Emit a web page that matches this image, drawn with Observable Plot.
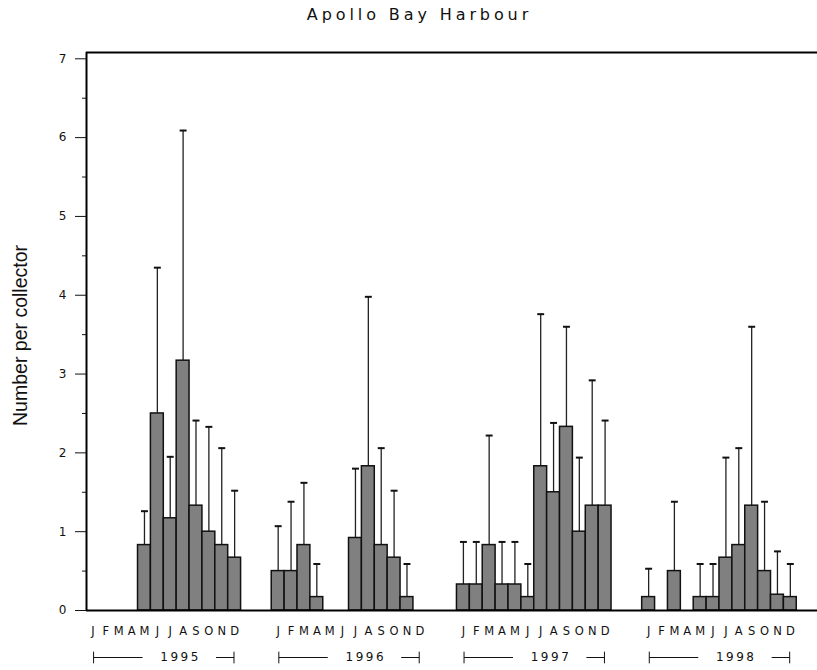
<!DOCTYPE html>
<html>
<head>
<meta charset="utf-8">
<script src="https://cdn.jsdelivr.net/npm/d3@7"></script>
<script src="https://cdn.jsdelivr.net/npm/@observablehq/plot@0.6"></script>
<style>
  html, body { margin: 0; padding: 0; background: #fff; }
  #wrap { width: 817px; }
  #title {
    height: 40px;
    box-sizing: border-box;
    padding-top: 6px;
    padding-left: 22px;
    text-align: center;
    font-family: "DejaVu Sans", sans-serif;
    font-size: 16px;
    line-height: 18px;
    letter-spacing: 3.9px;
    color: #111;
  }
</style>
</head>
<body>
<div id="wrap">
  <div id="title">Apollo Bay Harbour</div>
  <div id="chart"></div>
</div>
<script>
// Monthly mean number of settlers per collector, with the upper limit of each error bar.
const years = [1995, 1996, 1997, 1998];
const monthLetters = ["J", "F", "M", "A", "M", "J", "J", "A", "S", "O", "N", "D"];

const mean1995  = [null, null, null, null, 0.83, 2.50, 1.17, 3.17, 1.33, 1.00, 0.83, 0.67];
const upper1995 = [null, null, null, null, 1.26, 4.35, 1.95, 6.09, 2.41, 2.33, 2.06, 1.52];

const mean1996  = [0.50, 0.50, 0.83, 0.17, null, null, 0.92, 1.83, 0.83, 0.67, 0.17, null];
const upper1996 = [1.07, 1.38, 1.62, 0.59, null, null, 1.80, 3.98, 2.06, 1.52, 0.59, null];

const mean1997  = [0.33, 0.33, 0.83, 0.33, 0.33, 0.17, 1.83, 1.50, 2.33, 1.00, 1.33, 1.33];
const upper1997 = [0.87, 0.87, 2.22, 0.87, 0.87, 0.59, 3.76, 2.38, 3.60, 1.94, 2.92, 2.41];

const mean1998  = [0.17, null, 0.50, null, 0.17, 0.17, 0.67, 0.83, 1.33, 0.50, 0.20, 0.17];
const upper1998 = [0.53, null, 1.38, null, 0.59, 0.59, 1.94, 2.06, 3.60, 1.38, 0.75, 0.59];

const yTicks = [0, 1, 2, 3, 4, 5, 6, 7];
const yMinorTicks = [0.5, 1.5, 2.5, 3.5, 4.5, 5.5, 6.5];

const meanByYear = [mean1995, mean1996, mean1997, mean1998];
const upperByYear = [upper1995, upper1996, upper1997, upper1998];

// Layout on the x scale, in month widths: each year block is 12 months plus a gap.
const YEAR_STRIDE = 14.38;
const X_MAX = 56.75;
const Y_MAX = 7.08;
const CAP = 0.27;

const rows = years.flatMap((year, yi) =>
  monthLetters.map((letter, mi) => ({
    year, letter,
    start: yi * YEAR_STRIDE + mi,
    mean: meanByYear[yi][mi],
    upper: upperByYear[yi][mi]
  }))
);
const bars = rows.filter(d => d.mean != null);

const yearStart = (d, i) => i * YEAR_STRIDE;

// vertical end stroke for the year brackets
const vbar = {
  draw(context, size) {
    const h = Math.sqrt(size) / 2;
    context.moveTo(0, -h);
    context.lineTo(0, h);
  }
};

const chart = Plot.plot({
  width: 817,
  height: 630,
  marginLeft: 86,
  marginRight: 0,
  marginTop: 12,
  marginBottom: 60,
  style: { fontFamily: "DejaVu Sans, sans-serif", fontSize: "12px", background: "#fff", color: "#111" },
  x: { domain: [0, X_MAX], axis: null },
  y: { domain: [0, Y_MAX], axis: null },
  marks: [
    // error bars
    Plot.ruleX(bars, { x: d => d.start + 0.5, y1: "mean", y2: "upper", stroke: "#222", strokeWidth: 1.3 }),
    // bars
    Plot.rect(bars, { x1: "start", x2: d => d.start + 1, y1: 0, y2: "mean", fill: "#808080", stroke: "#111", strokeWidth: 1.5 }),
    // error bar caps
    Plot.link(bars, { x1: d => d.start + 0.5 - CAP, x2: d => d.start + 0.5 + CAP, y1: "upper", y2: "upper", stroke: "#111", strokeWidth: 2 }),

    // frame: left, bottom, top
    Plot.ruleX([0], { stroke: "#000", strokeWidth: 2 }),
    Plot.ruleY([0], { stroke: "#000", strokeWidth: 2 }),
    Plot.ruleY([Y_MAX], { stroke: "#000", strokeWidth: 2 }),

    // y axis with minor ticks
    Plot.axisY({ ticks: yTicks, tickSize: 11, tickPadding: 9, tickFormat: d => String(d), label: null, fontSize: 12 }),
    Plot.axisY({ ticks: yMinorTicks, tickSize: 4, tickFormat: () => "", label: null }),
    Plot.text(["Number per collector"], {
      text: d => d, frameAnchor: "left", textAnchor: "middle", dx: -66, dy: 4, rotate: -90,
      fontSize: 19.5, fontFamily: "Liberation Sans, Arial, sans-serif", fill: "#111"
    }),

    // month initials under each year
    Plot.text(rows, { x: d => d.start + 0.5, y: 0, dy: 21, text: "letter", fontSize: 11.5, fill: "#111" }),

    // year brackets
    Plot.link(years, { x1: (d, i) => yearStart(d, i) + 0.55, x2: (d, i) => yearStart(d, i) + 4.35, y1: 0, y2: 0, dy: 47, stroke: "#111", strokeWidth: 1 }),
    Plot.link(years, { x1: (d, i) => yearStart(d, i) + 10.05, x2: (d, i) => yearStart(d, i) + 11.45, y1: 0, y2: 0, dy: 47, stroke: "#111", strokeWidth: 1 }),
    Plot.dot(years.flatMap((d, i) => [yearStart(d, i) + 0.55, yearStart(d, i) + 11.45]), {
      x: d => d, y: 0, dy: 47, symbol: vbar, r: 6.6, stroke: "#111", strokeWidth: 1, fill: "none"
    }),
    Plot.text(years, { x: (d, i) => yearStart(d, i) + 7.3, y: 0, dy: 47, text: d => String(d), fontSize: 12, fill: "#111" })
  ]
});

// widen the year labels with a little tracking
const yearNames = years.map(String);
d3.select(chart).selectAll("text")
  .filter(function () { return yearNames.includes(this.textContent); })
  .attr("letter-spacing", "2.5px");

document.getElementById("chart").appendChild(chart);
</script>
</body>
</html>
